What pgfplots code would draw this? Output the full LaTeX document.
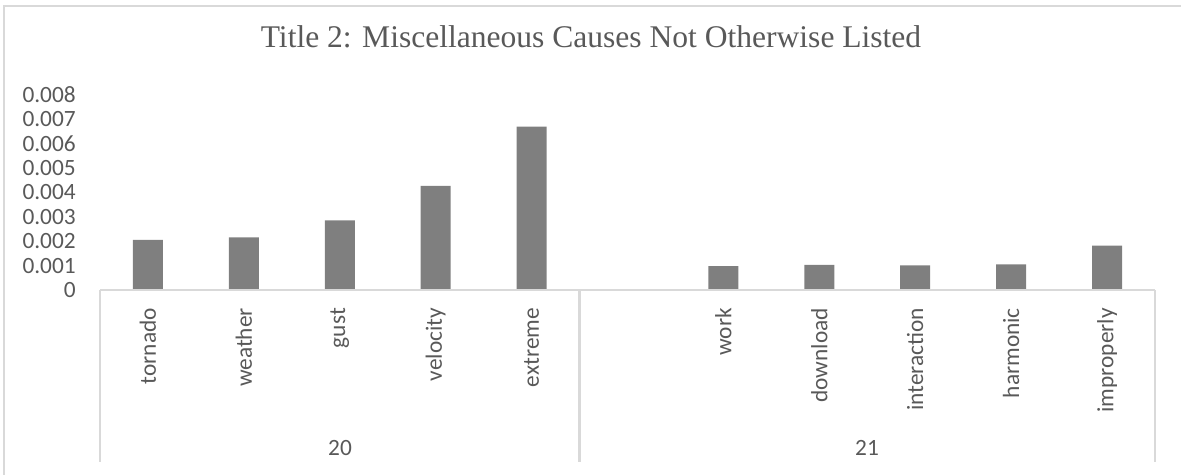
\documentclass[border=0pt]{standalone}
\usepackage{pgfplots}
\pgfplotsset{compat=1.18}
\usepackage{fontspec}
\setmainfont{Carlito}
\newfontfamily\titlefont{Liberation Serif}

\definecolor{txt}{HTML}{595959}
\definecolor{barc}{HTML}{7F7F7F}
\definecolor{rule}{HTML}{D9D9D9}

\begin{document}
\begin{tikzpicture}[x=0.42pt,y=0.42pt]
\useasboundingbox (0,0) rectangle (1181,474);
% chart frame
\draw[rule,line width=1pt] (4,-20) -- (4,468) -- (1200,468);

% title
\node[text=txt,font=\titlefont\fontsize{13.25}{16}\selectfont] at (591,437)
  {Title 2: Miscellaneous Causes Not Otherwise Listed};

\coordinate (plotorigin) at (100,184);
\begin{axis}[
  at={(plotorigin)}, anchor=south west,
  scale only axis,
  width=443.1pt, height=81.9pt,
  xmin=0, xmax=11, ymin=0, ymax=0.008,
  axis line style={draw=none},
  major tick length=0pt,
  scaled y ticks=false,
  ytick={0,0.001,0.002,0.003,0.004,0.005,0.006,0.007,0.008},
  yticklabels={0,0.001,0.002,0.003,0.004,0.005,0.006,0.007,0.008},
  xtick={0.5,1.5,2.5,3.5,4.5,6.5,7.5,8.5,9.5,10.5},
  xticklabels={tornado,weather,gust,velocity,extreme,work,download,interaction,harmonic,improperly},
  ticklabel style={text=txt,font=\fontsize{9.8}{11}\selectfont,inner sep=0pt},
  yticklabel style={anchor=east},
  yticklabel shift=10pt,
  xticklabel style={rotate=90,anchor=east},
  xticklabel shift=7.4pt,
  /pgf/number format/assume math mode=true,
  clip=false,
]
\addplot[ybar, bar width=12.6pt, fill=barc, draw=none] coordinates {
  (0.5,0.00206) (1.5,0.00216) (2.5,0.00286) (3.5,0.00427) (4.5,0.00670)
  (6.5,0.00098) (7.5,0.00103) (8.5,0.00101) (9.5,0.00105) (10.5,0.00182)
};
\end{axis}

% category axis line and group separators
\draw[rule,line width=1pt] (100,184) -- (1155,184);
\draw[rule,line width=1pt] (100,184) -- (100,12);
\draw[rule,line width=1pt] (579.5,184) -- (579.5,12);
\draw[rule,line width=1pt] (1155,184) -- (1155,12);

% group labels
\node[text=txt,font=\fontsize{9.8}{11}\selectfont] at (340,26) {20};
\node[text=txt,font=\fontsize{9.8}{11}\selectfont] at (867,26) {21};
\end{tikzpicture}
\end{document}
